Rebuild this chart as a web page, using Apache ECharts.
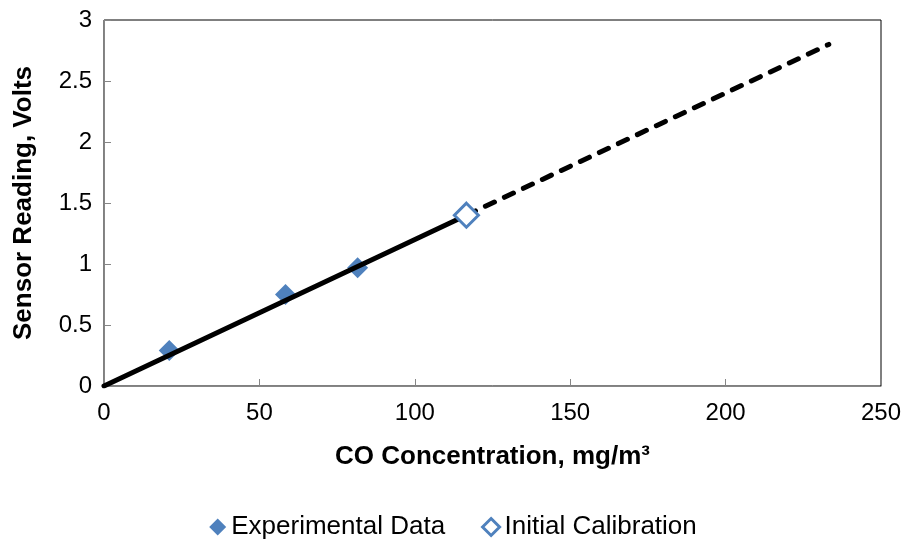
<!DOCTYPE html>
<html>
<head>
<meta charset="utf-8">
<script src="https://cdn.jsdelivr.net/npm/echarts@6/dist/echarts.min.js"></script>
<style>
  html, body { margin: 0; padding: 0; background: #fff; }
  #chart { width: 906px; height: 542px; }
</style>
</head>
<body>
<div id="chart"></div>
<script>
// Measured sensor readings
const expX = [21, 58.4, 81.6];
const expY = [0.29, 0.75, 0.97];
// Initial calibration point
const calX = [116.6];
const calY = [1.4];
// Linear calibration: solid up to the calibration point, dashed extrapolation beyond
const fitSolidX = [0, 116.6];
const fitSolidY = [0, 1.4];
const fitDashX = [116.6, 233.2];
const fitDashY = [1.4, 2.8];
// Axis tick values
const xTicks = [0, 50, 100, 150, 200, 250];
const yTicks = [0, 0.5, 1, 1.5, 2, 2.5, 3];

const zip = (xs, ys) => xs.map((x, i) => [x, ys[i]]);
const blue = '#4F81BD';
const axisGray = '#868686';
const font = 'Liberation Sans, Arial, sans-serif';

const chart = echarts.init(document.getElementById('chart'));
chart.setOption({
  animation: false,
  grid: {
    left: 104, top: 20, right: 25, bottom: 156,
    show: true, borderColor: '#000', borderWidth: 1, backgroundColor: 'transparent'
  },
  xAxis: {
    type: 'value',
    min: xTicks[0], max: xTicks[xTicks.length - 1], interval: 50,
    name: 'CO Concentration, mg/m³',
    nameLocation: 'middle', nameGap: 58,
    nameTextStyle: { fontFamily: font, fontSize: 26, fontWeight: 'bold', color: '#000' },
    axisLine: { show: true, lineStyle: { color: axisGray, width: 1 } },
    axisTick: { show: true, inside: true, length: 7, lineStyle: { color: axisGray } },
    axisLabel: { fontFamily: font, fontSize: 24, color: '#000', margin: 15 },
    splitLine: { show: false }
  },
  yAxis: {
    type: 'value',
    min: yTicks[0], max: yTicks[yTicks.length - 1], interval: 0.5,
    name: 'Sensor Reading, Volts',
    nameLocation: 'middle', nameGap: 67, nameRotate: 90,
    nameTextStyle: { fontFamily: font, fontSize: 26, fontWeight: 'bold', color: '#000' },
    axisLine: { show: true, lineStyle: { color: axisGray, width: 1 } },
    axisTick: { show: true, inside: true, length: 7, lineStyle: { color: axisGray } },
    axisLabel: { fontFamily: font, fontSize: 24, color: '#000', margin: 12 },
    splitLine: { show: false }
  },
  legend: {
    bottom: 2, left: 'center', padding: 0,
    data: [
      { name: 'Experimental Data', itemStyle: { color: blue } },
      { name: 'Initial Calibration', itemStyle: { color: '#fff', borderColor: blue, borderWidth: 3 } }
    ],
    icon: 'diamond', itemWidth: 17, itemHeight: 17, itemGap: 36,
    textStyle: { fontFamily: font, fontSize: 26, color: '#000' }
  },
  series: [
    {
      name: 'Experimental Data', type: 'scatter', z: 2,
      symbol: 'diamond', symbolSize: 21,
      itemStyle: { color: blue, opacity: 1 },
      data: zip(expX, expY)
    },
    {
      name: 'Initial Calibration', type: 'scatter', z: 4,
      symbol: 'diamond', symbolSize: 24,
      itemStyle: { color: '#fff', borderColor: blue, borderWidth: 3, opacity: 1 },
      data: zip(calX, calY)
    },
    {
      name: 'fit', type: 'line', z: 3, showSymbol: false, silent: true,
      lineStyle: { color: '#000', width: 5, cap: 'round' },
      data: zip(fitSolidX, fitSolidY)
    },
    {
      name: 'extrapolation', type: 'line', z: 3, showSymbol: false, silent: true,
      lineStyle: { color: '#000', width: 5, type: [10, 11], cap: 'round' },
      data: zip(fitDashX, fitDashY)
    }
  ]
});
</script>
</body>
</html>
